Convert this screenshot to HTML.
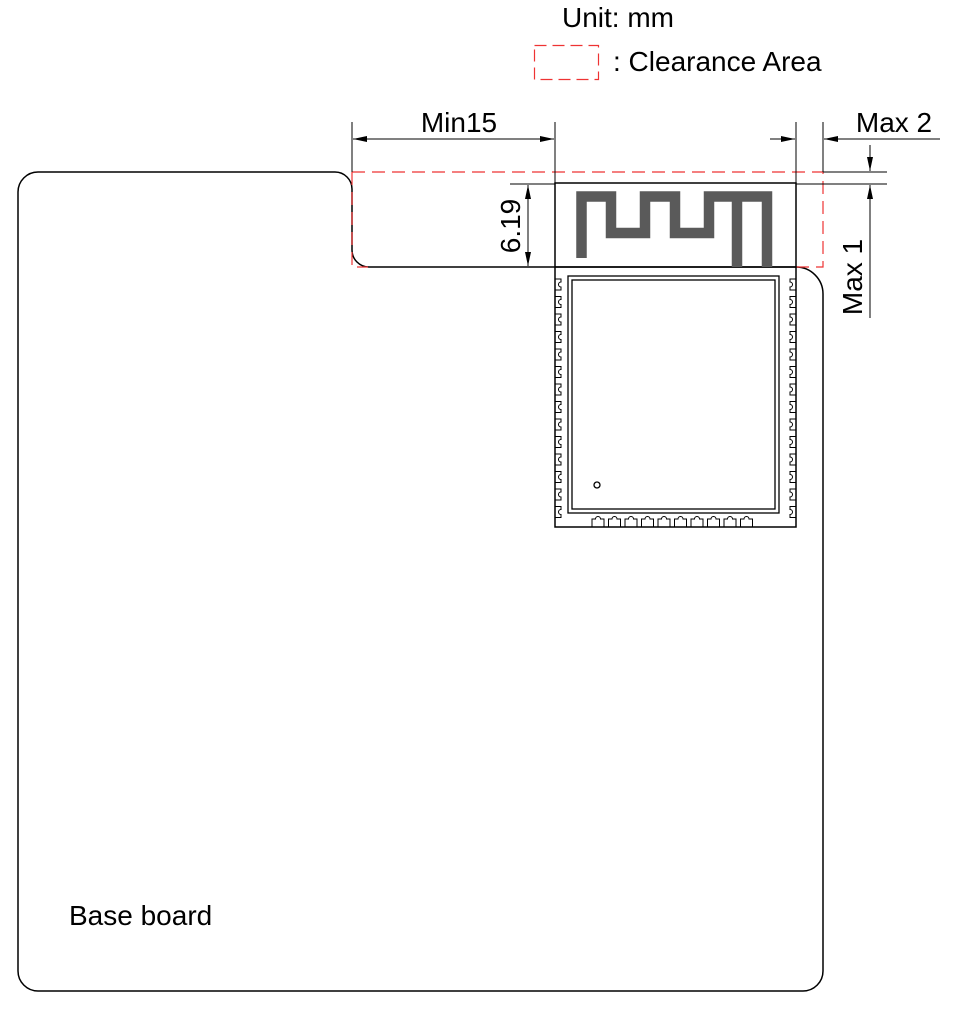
<!DOCTYPE html>
<html><head><meta charset="utf-8"><style>
html,body{margin:0;padding:0;background:#fff;}
svg{display:block;}
text{font-family:"Liberation Sans",Arial,sans-serif;fill:#000;}
</style></head><body>
<svg width="954" height="1024" viewBox="0 0 954 1024" xmlns="http://www.w3.org/2000/svg">
<defs>
<marker id="ar" viewBox="0 0 14 6" refX="14" refY="3" markerWidth="14" markerHeight="6" orient="auto-start-reverse" markerUnits="userSpaceOnUse"><path d="M0,0 L14,3 L0,6 z" fill="#000"/></marker>
<path id="lp" d="M0,0 H6 V3 A2.5,2.5 0 0 0 6,8 V11 H0" fill="none" stroke="#000" stroke-width="1"/>
<path id="rp" d="M0,0 H-6 V3 A2.5,2.5 0 0 1 -6,8 V11 H0" fill="none" stroke="#000" stroke-width="1"/>
<path id="bp" d="M0,0 V-8 H3.5 A2.5,2.5 0 0 1 8.5,-8 H12 V0" fill="none" stroke="#000" stroke-width="1"/>
</defs>

<text x="562" y="27" font-size="28">Unit: mm</text>
<rect x="534.5" y="45.5" width="64" height="34" fill="none" stroke="#e33" stroke-width="1.2" stroke-dasharray="12,6"/>
<text x="613" y="71" font-size="28">: Clearance Area</text>

<path d="M38,172 H335 A17,17 0 0 1 352,189 V250 A17,17 0 0 0 369,267 H796 A27,27 0 0 1 823,294 V971 A20,20 0 0 1 803,991 H38 A20,20 0 0 1 18,971 V192 A20,20 0 0 1 38,172 Z" fill="none" stroke="#000" stroke-width="1.5"/>
<text x="69" y="925" font-size="28">Base board</text>

<path d="M352,172 H823 V267 H796" fill="none" stroke="#e33" stroke-width="1.2" stroke-dasharray="13,7"/>
<path d="M352,172 V267 H368" fill="none" stroke="#e33" stroke-width="1.2" stroke-dasharray="13,7"/>

<path d="M555,183 H796 V527 H555 Z" fill="none" stroke="#000" stroke-width="1.5"/>
<path d="M555,267 H796" stroke="#000" stroke-width="1.5"/>
<path d="M581.5,258 V196.5 H611 V233 H645 V196.5 H675 V233 H709 V196.5 H767 V267" fill="none" stroke="#5a5a5a" stroke-width="10.5" stroke-linejoin="miter"/>
<path d="M737,196.5 V267" fill="none" stroke="#5a5a5a" stroke-width="10.5"/>
<rect x="568" y="276" width="211" height="237" fill="none" stroke="#000" stroke-width="1.3"/>
<rect x="572" y="280" width="203" height="229" fill="none" stroke="#000" stroke-width="1.3"/>
<use href="#lp" x="555" y="279"/><use href="#lp" x="555" y="296.5"/><use href="#lp" x="555" y="314"/><use href="#lp" x="555" y="331.5"/><use href="#lp" x="555" y="349"/><use href="#lp" x="555" y="366.5"/><use href="#lp" x="555" y="384"/><use href="#lp" x="555" y="401.5"/><use href="#lp" x="555" y="419"/><use href="#lp" x="555" y="436.5"/><use href="#lp" x="555" y="454"/><use href="#lp" x="555" y="471.5"/><use href="#lp" x="555" y="489"/><use href="#lp" x="555" y="506.5"/>
<use href="#rp" x="796" y="279"/><use href="#rp" x="796" y="296.5"/><use href="#rp" x="796" y="314"/><use href="#rp" x="796" y="331.5"/><use href="#rp" x="796" y="349"/><use href="#rp" x="796" y="366.5"/><use href="#rp" x="796" y="384"/><use href="#rp" x="796" y="401.5"/><use href="#rp" x="796" y="419"/><use href="#rp" x="796" y="436.5"/><use href="#rp" x="796" y="454"/><use href="#rp" x="796" y="471.5"/><use href="#rp" x="796" y="489"/><use href="#rp" x="796" y="506.5"/>
<use href="#bp" x="592" y="527"/><use href="#bp" x="608.5" y="527"/><use href="#bp" x="625" y="527"/><use href="#bp" x="641.5" y="527"/><use href="#bp" x="658" y="527"/><use href="#bp" x="674.5" y="527"/><use href="#bp" x="691" y="527"/><use href="#bp" x="707.5" y="527"/><use href="#bp" x="724" y="527"/><use href="#bp" x="740.5" y="527"/>
<circle cx="597" cy="485" r="3" fill="none" stroke="#000" stroke-width="1.3"/>

<g stroke="#000" stroke-width="1">
<line x1="352" y1="122" x2="352" y2="172"/>
<line x1="555" y1="122" x2="555" y2="183"/>
<line x1="353" y1="139" x2="554" y2="139" marker-start="url(#ar)" marker-end="url(#ar)"/>
<line x1="510" y1="184" x2="555" y2="184"/>
<line x1="528" y1="185" x2="528" y2="266" marker-start="url(#ar)" marker-end="url(#ar)"/>
<line x1="796" y1="122" x2="796" y2="183"/>
<line x1="823" y1="122" x2="823" y2="172"/>
<line x1="770" y1="139" x2="795" y2="139" marker-end="url(#ar)"/>
<line x1="940" y1="139" x2="824" y2="139" marker-end="url(#ar)"/>
<line x1="823" y1="172" x2="887" y2="172"/>
<line x1="796" y1="184" x2="887" y2="184"/>
<line x1="870" y1="145" x2="870" y2="171" marker-end="url(#ar)"/>
<line x1="870" y1="318" x2="870" y2="185" marker-end="url(#ar)"/>
</g>
<text x="459" y="132" font-size="28" text-anchor="middle">Min15</text>
<text transform="translate(520,226) rotate(-90)" font-size="28" text-anchor="middle">6.19</text>
<text x="894" y="132" font-size="28" text-anchor="middle">Max 2</text>
<text transform="translate(862,277) rotate(-90)" font-size="28" text-anchor="middle">Max 1</text>
</svg>
</body></html>
